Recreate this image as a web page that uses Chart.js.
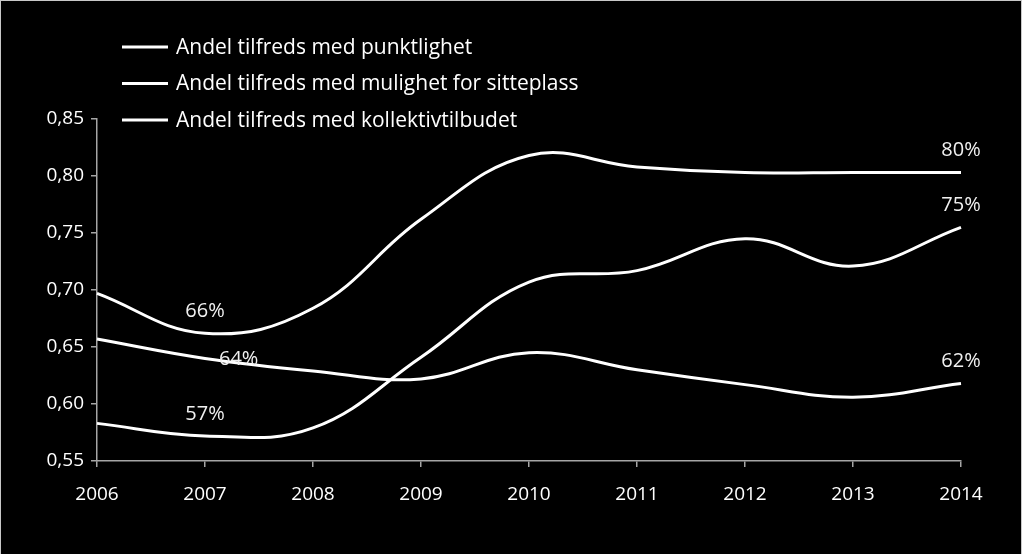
<!DOCTYPE html>
<html>
<head>
<meta charset="utf-8">
<script src="https://cdn.jsdelivr.net/npm/chart.js@4"></script>
<style>
  html, body { margin: 0; padding: 0; background: #fff; }
  #wrap { position: absolute; left: 0; top: 0; width: 1020px; height: 553px;
          border-top: 1px solid #c8c8c8; border-left: 1px solid #c8c8c8; border-right: 1px solid #c8c8c8;
          background: #000; }
</style>
</head>
<body>
<div id="wrap"><canvas id="chart" width="1020" height="553"></canvas></div>
<script>
// --- Data ---
const years = ['2006', '2007', '2008', '2009', '2010', '2011', '2012', '2013', '2014'];
const seriesNames = [
    'Andel tilfreds med punktlighet',
    'Andel tilfreds med mulighet for sitteplass',
    'Andel tilfreds med kollektivtilbudet'
];
const punktlighet = [0.697, 0.662, 0.684, 0.762, 0.818, 0.808, 0.803, 0.803, 0.803];
const sitteplass = [0.657, 0.640, 0.629, 0.622, 0.645, 0.630, 0.617, 0.606, 0.618];
const kollektiv = [0.583, 0.572, 0.579, 0.641, 0.707, 0.717, 0.745, 0.721, 0.755];
const punktLabels = ['', '66%', '', '', '', '', '', '', '80%'];
const sitteLabels = ['', '64%', '', '', '', '', '', '', '62%'];
const kollLabels = ['', '57%', '', '', '', '', '', '', '75%'];
const yTicks = [0.55, 0.60, 0.65, 0.70, 0.75, 0.80, 0.85];

const FONT = '"Open Sans", Lato, sans-serif';
const AXIS = '#a6a6a6';

// --- Plugins ---
const bgPlugin = {
    id: 'bg',
    beforeDraw(chart) {
        const c = chart.ctx;
        c.save();
        c.fillStyle = '#000';
        c.fillRect(0, 0, chart.width, chart.height);
        c.restore();
    }
};

const legendPlugin = {
    id: 'customLegend',
    afterDraw(chart) {
        const c = chart.ctx;
        c.save();
        c.font = '21px ' + FONT;
        c.textBaseline = 'middle';
        c.fillStyle = '#fff';
        c.strokeStyle = '#fff';
        c.lineWidth = 3;
        chart.data.datasets.forEach((ds, i) => {
            const y = 46 + i * 36.5;
            c.beginPath();
            c.moveTo(121, y);
            c.lineTo(167, y);
            c.stroke();
            c.fillText(ds.label, 175, y + 1);
        });
        c.restore();
    }
};

const labelPlugin = {
    id: 'valueLabels',
    afterDatasetsDraw(chart) {
        const c = chart.ctx;
        c.save();
        c.font = '20px ' + FONT;
        c.fillStyle = '#f0f0f0';
        c.textBaseline = 'middle';
        chart.data.datasets.forEach((ds, di) => {
            const meta = chart.getDatasetMeta(di);
            ds.valueLabels.forEach((txt, i) => {
                if (!txt) return;
                const pt = meta.data[i];
                const pos = (ds.labelPos && ds.labelPos[i]) || 'above';
                if (pos === 'right') {
                    c.textAlign = 'left';
                    c.fillText(txt, pt.x + 14, pt.y + 1);
                } else {
                    c.textAlign = 'center';
                    c.fillText(txt, pt.x, pt.y - 22);
                }
            });
        });
        c.restore();
    }
};

// --- Chart ---
const ctx = document.getElementById('chart').getContext('2d');
const lineStyle = {
    borderColor: '#fff',
    borderWidth: 3,
    pointRadius: 0,
    tension: 0.4,
    fill: false
};

new Chart(ctx, {
    type: 'line',
    data: {
        labels: years,
        datasets: [
            { ...lineStyle, label: seriesNames[0], data: punktlighet, valueLabels: punktLabels },
            { ...lineStyle, label: seriesNames[1], data: sitteplass, valueLabels: sitteLabels, labelPos: ['', 'right'] },
            { ...lineStyle, label: seriesNames[2], data: kollektiv, valueLabels: kollLabels }
        ]
    },
    options: {
        responsive: false,
        animation: false,
        layout: { padding: { left: 0, right: 60, top: 118, bottom: 43 } },
        scales: {
            x: {
                offset: false,
                grid: { drawOnChartArea: false, drawTicks: true, tickLength: 6, color: AXIS, lineWidth: 1.5 },
                border: { color: AXIS, width: 1.5 },
                ticks: { color: '#fff', font: { family: FONT, size: 19 }, padding: 16, maxRotation: 0 },
                afterFit(scale) { scale.height = 50; }
            },
            y: {
                min: 0.55,
                max: 0.85,
                afterBuildTicks(scale) { scale.ticks = yTicks.map(v => ({ value: v })); },
                grid: { drawOnChartArea: false, drawTicks: true, tickLength: 6, color: AXIS, lineWidth: 1.5 },
                border: { color: AXIS, width: 1.5 },
                ticks: {
                    color: '#fff',
                    font: { family: FONT, size: 19 },
                    padding: 7,
                    callback: v => v.toFixed(2).replace('.', ',')
                },
                afterFit(scale) { scale.width = 96; }
            }
        },
        plugins: {
            legend: { display: false },
            tooltip: { enabled: false }
        }
    },
    plugins: [bgPlugin, labelPlugin, legendPlugin]
});
</script>
</body>
</html>
